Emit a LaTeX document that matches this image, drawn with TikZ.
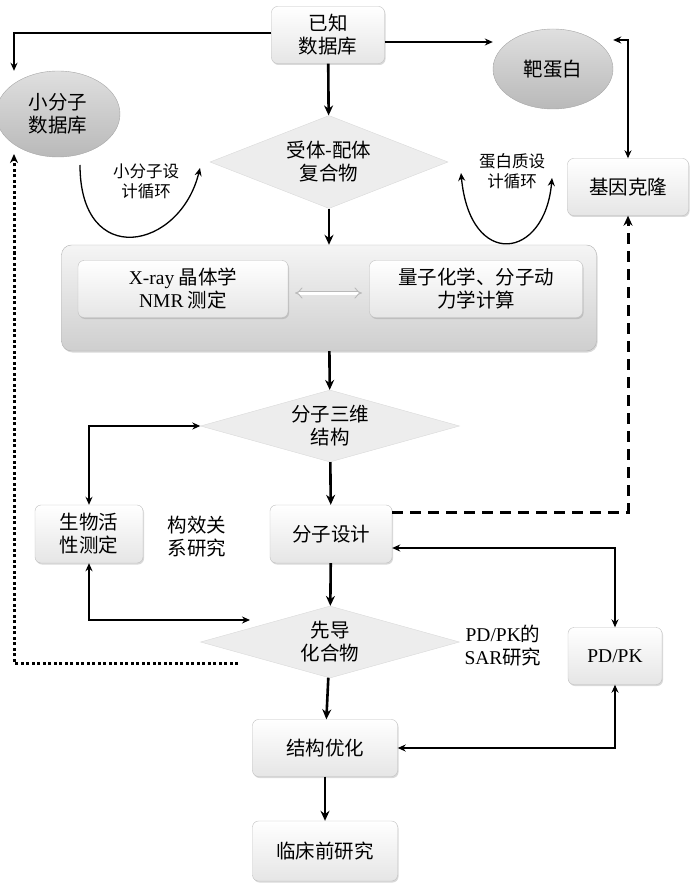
\documentclass[tikz,border=0pt]{standalone}
\usepackage{fontspec}
\setmainfont{Liberation Serif}
\newfontfamily\cjk{Noto Sans CJK SC}
\usetikzlibrary{shapes.geometric,arrows.meta,shadows}
\begin{document}
\begin{tikzpicture}[x=1pt,y=-1pt,
  every node/.style={font=\fontsize{19.5}{23}\selectfont\cjk, align=center},
  box/.style={draw=gray!50, rounded corners=6pt, top color=white, bottom color=gray!20, drop shadow={opacity=0.3,shadow xshift=1pt,shadow yshift=-1.5pt}, inner sep=0pt},
  ell/.style={ellipse, draw=gray!70, top color=gray!25, bottom color=gray!55, inner sep=0pt},
  dia/.style={diamond, draw=gray!30, fill=gray!14, aspect=2.6, inner sep=0pt},
  thick arr/.style={line width=2.6pt, -{Stealth[length=10pt,width=9pt]}},
  arr/.style={line width=1.3pt, -{Stealth[length=8pt,width=7pt]}},
  darr/.style={line width=1.3pt, {Stealth[length=8pt,width=7pt]}-{Stealth[length=8pt,width=7pt]}}]
\useasboundingbox (0,0) rectangle (691,890);
\node[box, minimum width=113, minimum height=57] (db) at (328,35) {已知\\数据库};
\node[ell, minimum width=120, minimum height=80] (tp) at (553,69) {靶蛋白};
\node[ell, minimum width=124, minimum height=86] (sm) at (58,114) {小分子\\数据库};
\node[dia, minimum width=238, minimum height=93] (rl) at (329,162) {受体-配体\\复合物};
\node[box, minimum width=121, minimum height=57] (gc) at (628,187) {基因克隆};
\node[box, draw=gray!60, rounded corners=10pt, top color=gray!8, bottom color=gray!38, minimum width=535, minimum height=106] (big) at (329,298) {};
\node[box, minimum width=210, minimum height=57] (xr) at (183,289) {{\fontspec{Liberation Serif}X-ray} 晶体学\\{\fontspec{Liberation Serif}NMR} 测定};
\node[box, minimum width=213, minimum height=57] (qc) at (476,289) {量子化学、分子动\\力学计算};
\coordinate (da1) at (295,293); \coordinate (da2) at (362,293);
\draw[gray!55, double, double distance=3pt, line width=0.9pt, {Implies}-{Implies}] (da1) -- (da2);
\node[dia, minimum width=259, minimum height=72] (m3) at (330,426) {分子三维\\结构};
\node[box, minimum width=122, minimum height=58] (md) at (331,534) {分子设计};
\node[box, minimum width=108, minimum height=58] (bio) at (89,534) {生物活\\性测定};
\node (sar) at (197,537) {构效关\\系研究};
\node[dia, minimum width=259, minimum height=72] (lead) at (330,642) {先导\\化合物};
\node (pdsar) at (503,646) {\fontspec{Liberation Serif}PD/PK{\cjk 的}\\\fontspec{Liberation Serif}SAR{\cjk 研究}};
\node[box, minimum width=94, minimum height=57] (pk) at (615,656) {\fontspec{Liberation Serif}PD/PK};
\node[box, minimum width=145, minimum height=57] (opt) at (325,748) {结构优化};
\node[box, minimum width=145, minimum height=60] (pre) at (325,851) {临床前研究};
\node[font=\fontsize{16.5}{20}\selectfont\cjk] (l1) at (146,181) {小分子设\\计循环};
\node[font=\fontsize{16.5}{20}\selectfont\cjk] (l2) at (512,171) {蛋白质设\\计循环};
% thick flow
\draw[thick arr] (db) -- (rl);
\draw[thick arr] (rl) -- (big);
\draw[thick arr] (big) -- (m3);
\draw[thick arr] (m3) -- (md);
\draw[thick arr] (md) -- (lead);
\draw[thick arr] (lead) -- (opt);
\draw[thick arr] (opt) -- (pre);
% top connectors
\draw[arr] (db.west |- 0,33) -| (sm.north -| 14,0);
\draw[arr] (db.east |- 0,42) -- (tp.west |- 0,42);
\draw[darr] (tp.east |- 0,40) -| (gc.north);
% loops
\coordinate (a1) at (80,165); \coordinate (a2) at (200,168);
\draw[arr] (a1) .. controls (80,270) and (180,250) .. (a2);
\coordinate (b1) at (461,173); \coordinate (b2) at (552,178);
\draw[darr] (b1) .. controls (470,270) and (545,260) .. (b2);
% dotted
\coordinate (dt) at (238,663);
\draw[line width=3pt, dash pattern=on 3pt off 2.5pt, -{Stealth[length=9pt,width=8pt]}] (dt) -| (14,154);
% dashed
\draw[line width=3pt, dash pattern=on 11pt off 7pt, -{Stealth[length=10pt,width=9pt]}] (md.east |- 0,512) -| (gc.south);
% side loops
\draw[darr] (bio.north) |- (m3.west);
\draw[darr] (bio.south) |- (250,620);
\draw[darr] (md.east |- 0,548) -| (pk.north);
\draw[darr] (pk.south) |- (opt.east);
\end{tikzpicture}
\end{document}
